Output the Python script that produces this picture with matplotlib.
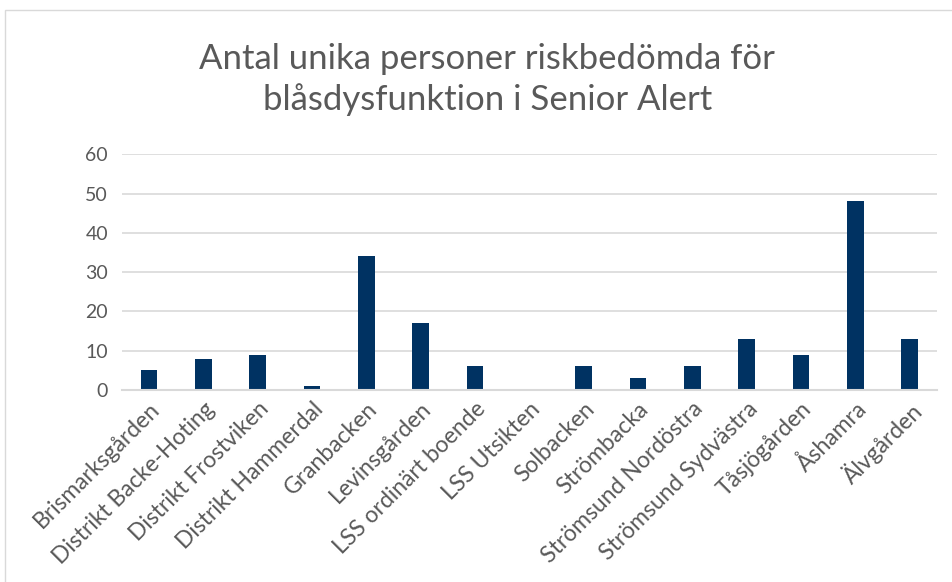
import matplotlib.pyplot as plt
from matplotlib.patches import Rectangle

# data
categories = ["Brismarksgården", "Distrikt Backe-Hoting", "Distrikt Frostviken",
              "Distrikt Hammerdal", "Granbacken", "Levinsgården", "LSS ordinärt boende",
              "LSS Utsikten", "Solbacken", "Strömbacka", "Strömsund Nordöstra",
              "Strömsund Sydvästra", "Tåsjögården", "Åshamra", "Älvgården"]
values = [5, 8, 9, 1, 34, 17, 6, 0, 6, 3, 6, 13, 9, 48, 13]
yticks = [0, 10, 20, 30, 40, 50, 60]

plt.rcParams["font.family"] = ["Lato", "DejaVu Sans"]
grey = "#595959"

fig = plt.figure(figsize=(9.52, 5.82), dpi=100)
ax = fig.add_axes([0.128, 0.330, 0.856, 0.405])

x = range(len(categories))
ax.bar(x, values, width=0.31, color="#003262", zorder=3)

ax.set_xlim(-0.5, len(categories) - 0.5)
ax.set_ylim(0, 60)
ax.set_yticks(yticks)
ax.set_yticklabels([str(t) for t in yticks], fontsize=14, color=grey)
ax.set_xticks(list(x))
ax.set_xticklabels(categories, rotation=45, ha="right", rotation_mode="anchor",
                   fontsize=16.5, color=grey)
ax.tick_params(axis="both", length=0, pad=10)
ax.tick_params(axis="x", pad=6)

ax.grid(axis="y", color="#d9d9d9", linewidth=1.2, zorder=0)
for s in ["top", "right", "left"]:
    ax.spines[s].set_visible(False)
ax.spines["bottom"].set_color("#d9d9d9")
ax.spines["bottom"].set_linewidth(1.5)
ax.spines["bottom"].set_zorder(4)

fig.text(0.512, 0.864, "Antal unika personer riskbedömda för\nblåsdysfunktion i Senior Alert",
         ha="center", va="center", fontsize=25, color=grey,
         linespacing=1.3)

# outer chart border
fig.patches.append(Rectangle((5 / 952, -0.1), 1.1, 1 - 10 / 582 + 0.1,
                             transform=fig.transFigure, fill=False,
                             edgecolor="#d9d9d9", linewidth=1))

fig.savefig("out.png", dpi=100)
